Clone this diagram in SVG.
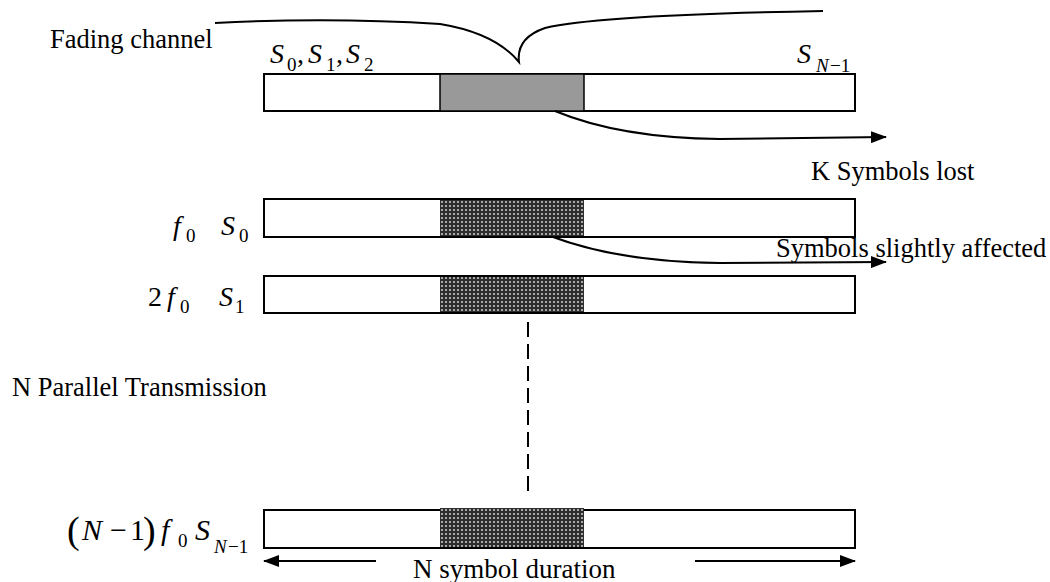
<svg xmlns="http://www.w3.org/2000/svg" width="1050" height="582" viewBox="0 0 1050 582">
  <defs>
    <pattern id="dots" width="4" height="4" patternUnits="userSpaceOnUse">
      <rect width="4" height="4" fill="#2e2e2e"/>
      <rect x="1" y="1" width="2" height="2" fill="#a8a8a8"/>
    </pattern>
    <marker id="head" markerWidth="16" markerHeight="12" refX="15" refY="6" orient="auto" markerUnits="userSpaceOnUse">
      <path d="M0,0 L16,6 L0,12 Z" fill="#000"/>
    </marker>
  </defs>

  <rect width="1050" height="582" fill="#fff"/>

  <!-- channel fade over the whole symbol stream -->
  <g id="fading">
    <path d="M215,23 Q330,17 440,24 Q495,33 519,62 Q516,38 545,28 Q600,15 823,11" fill="none" stroke="#000" stroke-width="2"/>
    <text font-family="Liberation Serif" font-size="26.5" x="50" y="48">Fading channel</text>
  </g>

  <!-- serial stream -->
  <g id="serial">
    <rect x="264" y="74" width="591" height="37" fill="#fff" stroke="#000" stroke-width="2"/>
    <rect x="440" y="74" width="144" height="37" fill="#999" stroke="#000" stroke-width="1.5"/>
    <text font-family="Liberation Serif" font-size="28" font-style="italic" x="270" y="63">S</text>
    <text font-family="Liberation Serif" font-size="19" x="287" y="71">0</text>
    <text font-family="Liberation Serif" font-size="28" x="297" y="63">,</text>
    <text font-family="Liberation Serif" font-size="28" font-style="italic" x="308" y="63">S</text>
    <text font-family="Liberation Serif" font-size="19" x="326" y="71">1</text>
    <text font-family="Liberation Serif" font-size="28" x="336" y="63">,</text>
    <text font-family="Liberation Serif" font-size="28" font-style="italic" x="346" y="63">S</text>
    <text font-family="Liberation Serif" font-size="19" x="364" y="71">2</text>
    <text font-family="Liberation Serif" font-size="28" font-style="italic" x="797" y="63">S</text>
    <text font-family="Liberation Serif" font-size="19" font-style="italic" x="816" y="72">N</text>
    <text font-family="Liberation Serif" font-size="19" x="830" y="72">−1</text>
    <text font-family="Liberation Serif" font-size="26.5" x="811" y="180">K Symbols lost</text>
  </g>

  <!-- subcarrier f0 -->
  <g id="carrier0">
    <rect x="264" y="199" width="591" height="38" fill="#fff" stroke="#000" stroke-width="2"/>
    <rect x="440" y="200" width="144" height="36" fill="url(#dots)"/>
    <text font-family="Liberation Serif" font-size="28" font-style="italic" x="173" y="235">f</text>
    <text font-family="Liberation Serif" font-size="19" x="186" y="242">0</text>
    <text font-family="Liberation Serif" font-size="28" font-style="italic" x="221" y="235">S</text>
    <text font-family="Liberation Serif" font-size="19" x="239" y="242">0</text>
    <text font-family="Liberation Serif" font-size="26.5" x="776" y="257">Symbols slightly affected</text>
  </g>

  <!-- subcarrier 2f0 -->
  <g id="carrier1">
    <rect x="264" y="276" width="591" height="37" fill="#fff" stroke="#000" stroke-width="2"/>
    <rect x="440" y="277" width="144" height="35" fill="url(#dots)"/>
    <text font-family="Liberation Serif" font-size="28" x="148" y="306">2</text>
    <text font-family="Liberation Serif" font-size="28" font-style="italic" x="167" y="306">f</text>
    <text font-family="Liberation Serif" font-size="19" x="180" y="313">0</text>
    <text font-family="Liberation Serif" font-size="28" font-style="italic" x="219" y="306">S</text>
    <text font-family="Liberation Serif" font-size="19" x="235" y="313">1</text>
  </g>

  <text font-family="Liberation Serif" font-size="26.5" x="12" y="396">N Parallel Transmission</text>

  <!-- subcarrier (N-1)f0 -->
  <g id="carrierN">
    <rect x="264" y="510" width="591" height="38" fill="#fff" stroke="#000" stroke-width="2"/>
    <rect x="440" y="508" width="144" height="39" fill="url(#dots)"/>
    <text font-family="Liberation Serif" font-size="38" x="67" y="543">(</text>
    <text font-family="Liberation Serif" font-size="30" font-style="italic" x="82" y="540">N</text>
    <text font-family="Liberation Serif" font-size="30" x="110" y="540">−</text>
    <text font-family="Liberation Serif" font-size="30" x="130" y="540">1</text>
    <text font-family="Liberation Serif" font-size="38" x="143" y="543">)</text>
    <text font-family="Liberation Serif" font-size="30" font-style="italic" x="161" y="540">f</text>
    <text font-family="Liberation Serif" font-size="19" x="178" y="547">0</text>
    <text font-family="Liberation Serif" font-size="30" font-style="italic" x="195" y="540">S</text>
    <text font-family="Liberation Serif" font-size="19" font-style="italic" x="214" y="553">N</text>
    <text font-family="Liberation Serif" font-size="19" x="228" y="553">−1</text>
    <text font-family="Liberation Serif" font-size="27" x="413" y="578">N symbol duration</text>
  </g>

  <g id="connectors" fill="none" stroke="#000" stroke-width="2">
    <path d="M555,111 Q620,138 720,139 L886,137" marker-end="url(#head)"/>
    <path d="M553,237 Q620,262 720,263 L886,262" marker-end="url(#head)"/>
    <line x1="528" y1="322" x2="528" y2="492" stroke-dasharray="15,7"/>
    <line x1="376" y1="561" x2="264" y2="561" marker-end="url(#head)"/>
    <line x1="695" y1="561" x2="855" y2="561" marker-end="url(#head)"/>
  </g>
</svg>
